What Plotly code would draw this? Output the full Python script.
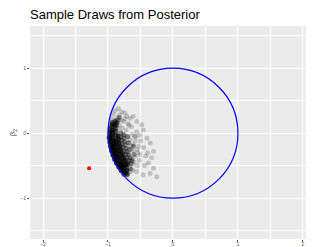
import plotly.graph_objects as go

# Posterior draws hugging the unit-circle boundary (dense core)
core_x = [-0.968, -0.969, -0.970, -0.969, -0.968, -0.965, -0.960, -0.955, -0.949, -0.941,
          -0.932, -0.922, -0.912, -0.899, -0.887, -0.872, -0.857, -0.840, -0.823, -0.804, -0.785,
          -0.929, -0.930, -0.930, -0.929, -0.926, -0.923, -0.919, -0.913, -0.906, -0.898,
          -0.889, -0.880, -0.868, -0.856, -0.843, -0.829, -0.813, -0.797, -0.780, -0.762,
          -0.879, -0.879, -0.876, -0.867, -0.854, -0.837, -0.816, -0.791, -0.762, -0.730,
          -0.983, -0.975, -0.963, -0.947, -0.926, -0.900, -0.870, -0.835, -0.797, -0.755,
          -0.936, -0.941, -0.945, -0.749, -0.728, -0.706, -0.890, -0.901, -0.707,
          -0.845, -0.842, -0.835, -0.822, -0.806, -0.786, -0.762, -0.735, -0.703,
          -0.905, -0.900, -0.891, -0.878, -0.861, -0.840, -0.815, -0.787, -0.756]
core_y = [0.068, 0.034, 0.000, -0.034, -0.068, -0.102, -0.135, -0.169, -0.202, -0.235,
          -0.268, -0.300, -0.332, -0.364, -0.395, -0.425, -0.455, -0.485, -0.514, -0.542, -0.570,
          0.048, 0.016, -0.016, -0.049, -0.081, -0.113, -0.145, -0.177, -0.209, -0.241,
          -0.272, -0.303, -0.333, -0.363, -0.393, -0.422, -0.451, -0.479, -0.506, -0.533,
          0.031, -0.031, -0.092, -0.153, -0.213, -0.272, -0.330, -0.385, -0.440, -0.492,
          -0.069, -0.137, -0.205, -0.272, -0.337, -0.401, -0.462, -0.522, -0.579, -0.633,
          0.165, 0.132, 0.100, -0.585, -0.611, -0.636, 0.189, 0.126, -0.572,
          -0.044, -0.103, -0.162, -0.220, -0.277, -0.332, -0.386, -0.437, -0.486,
          -0.126, -0.159, -0.190, -0.250, -0.309, -0.366, -0.420, -0.473, -0.524]

# Draws a little further inside (medium density)
mid_x = [-0.800, -0.798, -0.792, -0.782, -0.769, -0.752, -0.731, -0.706, -0.678, -0.647,
         -0.759, -0.756, -0.748, -0.737, -0.723, -0.705, -0.683, -0.658, -0.630,
         -0.835, -0.828, -0.815, -0.800, -0.778, -0.752, -0.722, -0.690,
         -0.880, -0.872, -0.860, -0.845, -0.825, -0.905, -0.890, -0.870,
         -0.720, -0.715, -0.700, -0.690, -0.670, -0.650, -0.600, -0.610]
mid_y = [0.000, -0.056, -0.111, -0.166, -0.221, -0.274, -0.326, -0.375, -0.424, -0.470,
         -0.027, -0.080, -0.132, -0.184, -0.235, -0.285, -0.333, -0.380, -0.425,
         -0.080, -0.140, -0.200, -0.255, -0.310, -0.365, -0.415, -0.460,
         0.080, 0.120, 0.160, 0.200, 0.240, 0.050, 0.110, 0.160,
         -0.520, -0.580, -0.050, -0.150, -0.250, -0.550, -0.330, -0.200]

# Posterior draws spreading inward (sparse)
spread_x = [-0.79, -0.74, -0.66, -0.61, -0.56, -0.48, -0.46, -0.51, -0.40, -0.35,
            -0.30, -0.33, -0.38, -0.30, -0.35, -0.25, -0.46, -0.56, -0.51, -0.61,
            -0.56, -0.64, -0.69, -0.71, -0.82, -0.84,
            -0.80, -0.76, -0.83, -0.78, -0.72, -0.81, -0.75, -0.70, -0.84, -0.79,
            -0.73, -0.66, -0.82, -0.77, -0.70, -0.64, -0.80, -0.74, -0.68, -0.78,
            -0.72, -0.65, -0.76, -0.70, -0.62, -0.73, -0.67, -0.60, -0.58, -0.61,
            -0.85, -0.86, -0.83, -0.81, -0.79, -0.75, -0.71, -0.66, -0.62, -0.55,
            -0.52, -0.55, -0.58, -0.63, -0.68, -0.74, -0.86, -0.88, -0.90, -0.87,
            -0.92, -0.89, -0.94, -0.77, -0.81, -0.69, -0.64, -0.59, -0.71, -0.76,
            -0.45, -0.42, -0.50, -0.53, -0.57, -0.44, -0.39, -0.67, -0.63, -0.54]
spread_y = [0.33, 0.31, 0.23, 0.26, 0.18, 0.13, 0.05, -0.03, -0.08, -0.15,
            -0.28, -0.38, -0.46, -0.54, -0.62, -0.67, -0.64, -0.59, -0.33, -0.18,
            0.02, 0.10, 0.15, 0.26, 0.28, 0.38,
            0.20, 0.18, 0.12, 0.08, 0.05, 0.02, -0.02, -0.06, -0.05, -0.10,
            -0.12, -0.10, -0.16, -0.20, -0.22, -0.25, -0.25, -0.29, -0.32, -0.33,
            -0.38, -0.40, -0.42, -0.46, -0.48, -0.50, -0.53, -0.44, -0.36, -0.28,
            0.08, -0.12, -0.22, -0.30, -0.38, -0.47, -0.55, -0.60, -0.57, -0.50,
            -0.42, -0.25, -0.12, -0.02, 0.12, 0.22, 0.24, 0.16, 0.10, -0.02,
            0.30, 0.35, 0.22, -0.58, -0.52, -0.62, -0.20, -0.05, -0.65, -0.60,
            -0.22, -0.35, -0.12, -0.20, -0.05, -0.50, -0.30, -0.15, -0.40, -0.30]

# Reference point
ref_x = [-1.29]
ref_y = [-0.54]

x_ticks = [-2, -1, 0, 1, 2]
y_ticks = [-1, 0, 1]

fig = go.Figure()
fig.add_trace(go.Scatter(x=spread_x, y=spread_y, mode="markers",
                         marker=dict(color="black", size=5, opacity=0.18, line=dict(width=0)),
                         showlegend=False, hoverinfo="skip"))
fig.add_trace(go.Scatter(x=mid_x, y=mid_y, mode="markers",
                         marker=dict(color="black", size=5, opacity=0.38, line=dict(width=0)),
                         showlegend=False, hoverinfo="skip"))
fig.add_trace(go.Scatter(x=core_x, y=core_y, mode="markers",
                         marker=dict(color="black", size=5, opacity=0.6, line=dict(width=0)),
                         showlegend=False, hoverinfo="skip"))
fig.add_trace(go.Scatter(x=ref_x, y=ref_y, mode="markers",
                         marker=dict(color="red", size=4, line=dict(width=0)),
                         showlegend=False, hoverinfo="skip"))

fig.add_shape(type="circle", xref="x", yref="y", x0=-1, y0=-1, x1=1, y1=1,
              line=dict(color="blue", width=1.2), layer="above")

axis_common = dict(
    showgrid=True, gridcolor="white", gridwidth=1,
    zeroline=False, showline=False, automargin=False,
    ticks="outside", ticklen=2, tickwidth=1, tickcolor="#4D4D4D",
    tickfont=dict(family="Liberation Sans, Arial, sans-serif", size=5, color="#4D4D4D"),
    minor=dict(dtick=0.5, tick0=0.5, showgrid=True, gridcolor="white", gridwidth=0.5, ticks=""),
)

# The page body adds an 8px offset, so the figure is sized/margined to compensate.
fig.update_layout(
    width=306, height=239,
    margin=dict(l=22, r=0, t=18, b=8),
    paper_bgcolor="white", plot_bgcolor="#EBEBEB",
    title=dict(text="Sample Draws from Posterior", x=22 / 306, xanchor="left",
               y=1 - 2 / 239, yanchor="top", pad=dict(t=0, b=0, l=0, r=0),
               font=dict(family="Liberation Sans, Arial, sans-serif", size=13, color="black")),
    xaxis=dict(range=[-2.2, 2.17], tickvals=x_ticks, ticklabelstandoff=-2, **axis_common),
    yaxis=dict(range=[-1.63, 1.65], tickvals=y_ticks,
               title=dict(text="β<sub>2</sub>", standoff=3,
                          font=dict(family="Liberation Sans, Arial, sans-serif", size=7, color="#333333")),
               **axis_common),
)

fig.write_html("out.html")
